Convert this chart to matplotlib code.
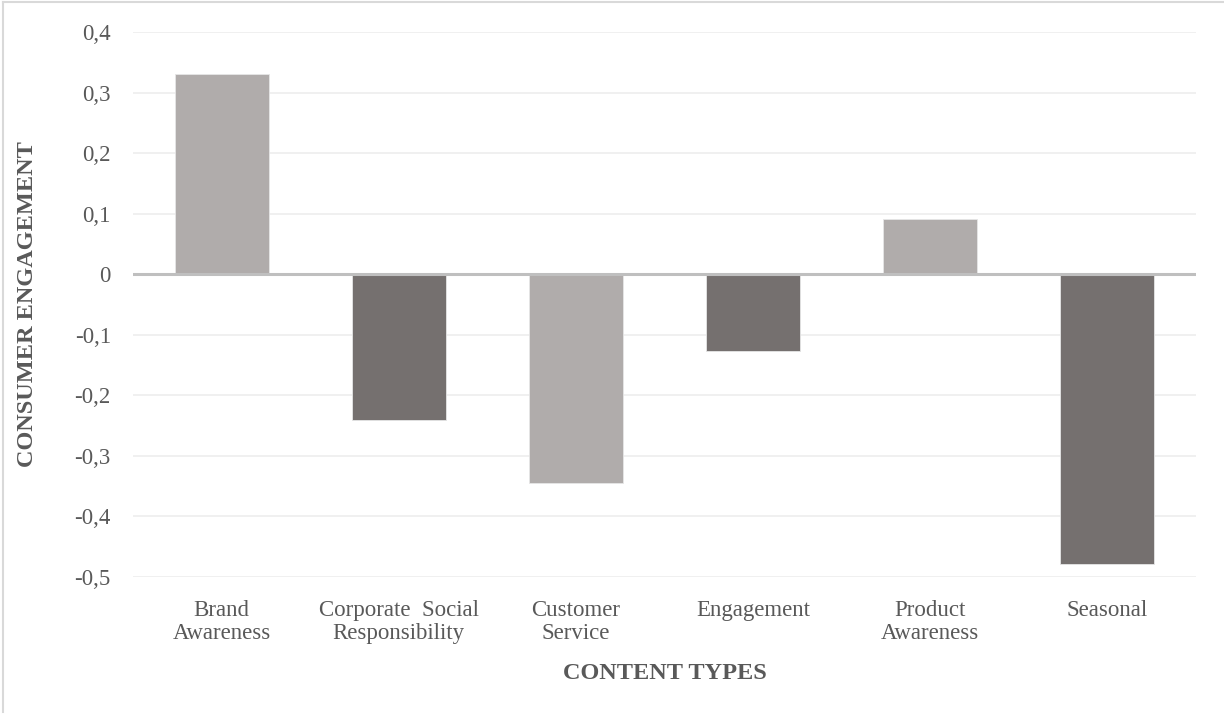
import matplotlib
matplotlib.use("Agg")
import matplotlib.pyplot as plt
from matplotlib.ticker import FuncFormatter
from matplotlib.lines import Line2D

categories = ["Brand\nAwareness", "Corporate  Social\nResponsibility", "Customer\nService",
              "Engagement", "Product\nAwareness", "Seasonal"]
values = [0.33, -0.241, -0.344, -0.126, 0.092, -0.478]
bar_colors = ["#B0ACAB", "#75706F", "#B0ACAB", "#75706F", "#B0ACAB", "#75706F"]
y_ticks = [-0.5, -0.4, -0.3, -0.2, -0.1, 0, 0.1, 0.2, 0.3, 0.4]

plt.rcParams["font.family"] = ["Liberation Serif", "DejaVu Serif"]
text_color = "#595959"

fig = plt.figure(figsize=(12.24, 7.15), dpi=100)
ax = fig.add_axes([0.1087, 0.193, 0.977 - 0.1087, 0.9552 - 0.193])

x = range(len(categories))
ax.bar(x, values, width=0.53, color=bar_colors, edgecolor="#E6E6E6", linewidth=0.6, zorder=3)

ax.set_ylim(-0.5, 0.4)
ax.set_xlim(-0.5, len(categories) - 0.5)
ax.set_yticks(y_ticks)
ax.yaxis.set_major_formatter(FuncFormatter(lambda v, _: "0" if abs(v) < 1e-9 else f"{v:.1f}".replace(".", ",")))
ax.set_xticks(list(x))
ax.set_xticklabels(categories, linespacing=1.12)

ax.grid(axis="y", color="#EDEDED", linewidth=1.2, zorder=0)
ax.axhline(0, color="#BFBFBF", linewidth=2.2, zorder=4)

for s in ax.spines.values():
    s.set_visible(False)
ax.tick_params(axis="both", length=0, labelsize=16.5, labelcolor=text_color)
ax.tick_params(axis="y", pad=16)
ax.tick_params(axis="x", pad=16.5)

ax.set_xlabel("CONTENT TYPES", fontsize=17.5, fontweight="bold", color=text_color)
ax.set_ylabel("CONSUMER ENGAGEMENT", fontsize=17.5, fontweight="bold", color=text_color)
ax.xaxis.set_label_coords(0.5, (577 - 673) / (577 - 32))
ax.yaxis.set_label_coords((27 - 133) / (1196 - 133), 0.5)
ax.xaxis.label.set_verticalalignment("center")
ax.yaxis.label.set_verticalalignment("center")

# thin frame along the left and top edges
fig.add_artist(Line2D([3 / 1224, 3 / 1224], [3 / 715, 1 - 2 / 715], transform=fig.transFigure,
                      color="#D9D9D9", linewidth=1.5))
fig.add_artist(Line2D([3 / 1224, 1.0], [1 - 2 / 715, 1 - 2 / 715], transform=fig.transFigure,
                      color="#D9D9D9", linewidth=1.5))

fig.savefig("out.png", dpi=100, facecolor="white")
